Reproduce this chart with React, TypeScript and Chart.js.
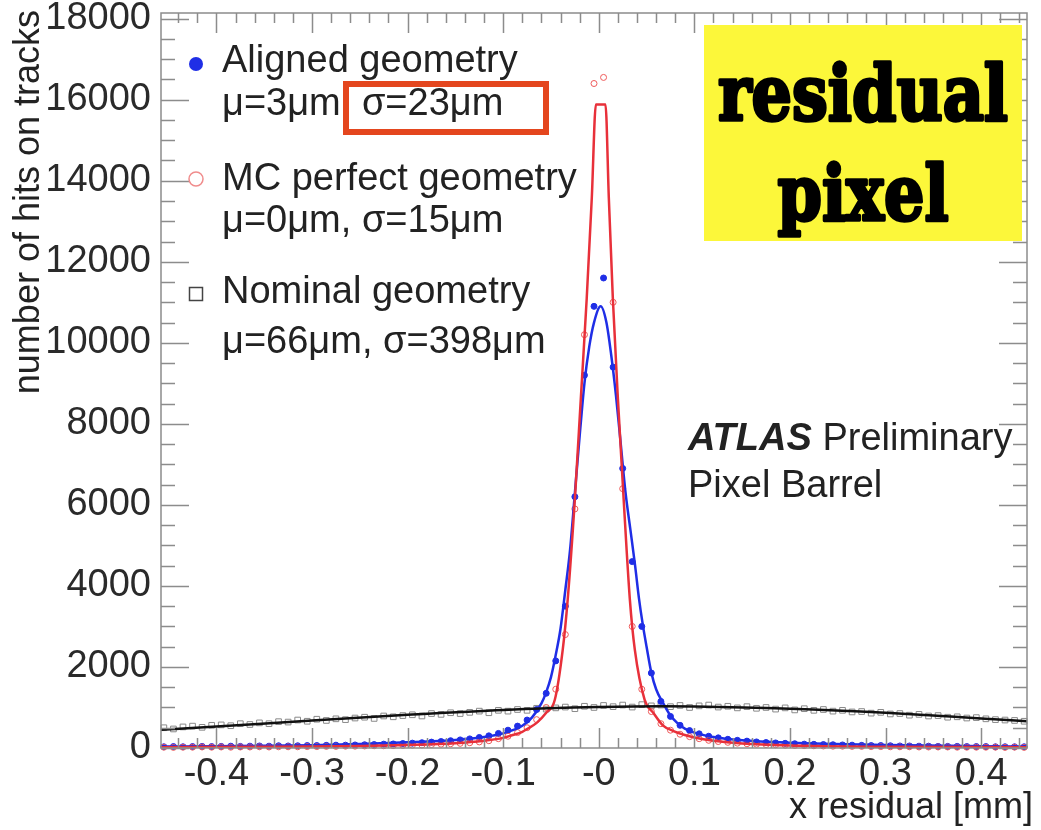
import React, { useEffect, useRef } from "react";
import { Chart, registerables } from "chart.js";

Chart.register(...registerables);

// ---------- data ----------
const binCenters = [
  -0.455, -0.445, -0.435, -0.425, -0.415, -0.405, -0.395, -0.385, -0.375, -0.365,
  -0.355, -0.345, -0.335, -0.325, -0.315, -0.305, -0.295, -0.285, -0.275, -0.265,
  -0.255, -0.245, -0.235, -0.225, -0.215, -0.205, -0.195, -0.185, -0.175, -0.165,
  -0.155, -0.145, -0.135, -0.125, -0.115, -0.105, -0.095, -0.085, -0.075, -0.065,
  -0.055, -0.045, -0.035, -0.025, -0.015, -0.005, 0.005, 0.015, 0.025, 0.035,
  0.045, 0.055, 0.065, 0.075, 0.085, 0.095, 0.105, 0.115, 0.125, 0.135,
  0.145, 0.155, 0.165, 0.175, 0.185, 0.195, 0.205, 0.215, 0.225, 0.235,
  0.245, 0.255, 0.265, 0.275, 0.285, 0.295, 0.305, 0.315, 0.325, 0.335,
  0.345, 0.355, 0.365, 0.375, 0.385, 0.395, 0.405, 0.415, 0.425, 0.435,
  0.445, 0.455,
];

const alignedCounts = [
  30, 35, 30, 35, 40, 35, 40, 45, 40, 45,
  50, 45, 55, 50, 55, 60, 60, 65, 70, 70,
  75, 80, 85, 95, 100, 110, 120, 130, 145, 160,
  180, 200, 225, 260, 300, 360, 440, 540, 690, 950,
  1350, 2150, 3500, 6200, 9200, 10900, 11600, 9400, 6900, 4600,
  3000, 1850, 1150, 780, 560, 430, 350, 290, 250, 215,
  190, 170, 150, 135, 125, 115, 105, 95, 90, 85,
  80, 75, 70, 65, 60, 60, 55, 50, 50, 45,
  45, 40, 40, 40, 35, 35, 35, 30, 30, 30,
  30, 30,
];

const mcCounts = [
  20, 15, 20, 20, 25, 20, 25, 20, 25, 25,
  30, 25, 30, 30, 30, 35, 35, 40, 40, 45,
  45, 50, 55, 55, 60, 65, 70, 75, 85, 95,
  105, 115, 130, 150, 180, 230, 290, 380, 500, 700,
  1000, 1450, 2800, 5900, 10200, 16400, 16550, 11000, 6400, 3000,
  1450, 900, 600, 440, 340, 280, 230, 190, 160, 140,
  120, 105, 95, 85, 80, 70, 65, 60, 55, 50,
  45, 45, 40, 40, 35, 35, 30, 30, 30, 25,
  25, 25, 25, 20, 20, 20, 20, 20, 15, 20,
  15, 15,
];

const nominalCounts = [
  500, 470, 520, 540, 510, 560, 570, 550, 600, 580,
  620, 600, 650, 640, 690, 660, 710, 680, 720, 700,
  740, 760, 730, 790, 770, 800, 820, 790, 850, 830,
  870, 850, 880, 910, 870, 930, 910, 950, 930, 980,
  960, 990, 1010, 970, 1030, 1000, 1050, 1020, 1060, 1010,
  1070, 1040, 1060, 1020, 1050, 1000, 1040, 1060, 1010, 1030,
  990, 1020, 980, 1000, 960, 990, 940, 970, 930, 950,
  910, 930, 890, 900, 860, 880, 840, 850, 810, 830,
  790, 800, 760, 770, 740, 750, 720, 700, 690, 680,
  660, 650,
];

const alignedFitX = [
  -0.458, -0.4, -0.3, -0.25, -0.2, -0.15, -0.12, -0.1, -0.09, -0.08,
  -0.07, -0.06, -0.055, -0.05, -0.045, -0.04, -0.035, -0.03, -0.025, -0.02,
  -0.015, -0.01, -0.005, 0.002, 0.008, 0.013, 0.018, 0.023, 0.028, 0.033,
  0.038, 0.042, 0.046, 0.05, 0.055, 0.06, 0.067, 0.075, 0.082, 0.09,
  0.1, 0.12, 0.15, 0.2, 0.3, 0.4, 0.448,
];
const alignedFitY = [
  35, 45, 70, 100, 140, 200, 270, 360, 440, 550,
  750, 1100, 1380, 1750, 2300, 2950, 3900, 4900, 6300, 7700,
  9000, 9900, 10500, 10900, 10500, 9700, 8700, 7500, 6300, 5400,
  4500, 3700, 3050, 2500, 1860, 1450, 1120, 800, 620, 480,
  380, 270, 190, 130, 75, 45, 35,
];

const mcFitX = [
  -0.458, -0.35, -0.3, -0.25, -0.2, -0.15, -0.12, -0.1, -0.09, -0.08,
  -0.075, -0.065, -0.055, -0.046, -0.0377, -0.0325, -0.025, -0.0188, -0.0126, -0.0073,
  -0.003, 0.007, 0.0105, 0.0147, 0.02, 0.026, 0.0325, 0.0377, 0.048, 0.057,
  0.067, 0.077, 0.09, 0.1, 0.12, 0.15, 0.2, 0.3, 0.448,
];
const mcFitY = [
  20, 28, 35, 50, 75, 120, 180, 250, 320, 400,
  470, 620, 870, 1190, 2430, 3670, 6150, 8620, 11100, 13580,
  15880, 15880, 13580, 11100, 8620, 6150, 3670, 2430, 1190, 870,
  560, 430, 320, 260, 180, 110, 60, 30, 20,
];

const nominalFitX = [-0.458, -0.4, -0.3, -0.2, -0.1, 0, 0.066, 0.1, 0.2, 0.3, 0.4, 0.448];
const nominalFitY = [450, 530, 680, 820, 940, 1010, 1030, 1025, 970, 870, 730, 660];

const xTickValues = [-0.4, -0.3, -0.2, -0.1, 0, 0.1, 0.2, 0.3, 0.4];
const xTickLabels = ["-0.4", "-0.3", "-0.2", "-0.1", "-0", "0.1", "0.2", "0.3", "0.4"];
const yTickValues = [0, 2000, 4000, 6000, 8000, 10000, 12000, 14000, 16000, 18000];
const yTickLabels = ["0", "2000", "4000", "6000", "8000", "10000", "12000", "14000", "16000", "18000"];

const xTitle = "x residual [mm]";
const yTitle = "number of hits on tracks";
const legendLines = [
  "Aligned geometry",
  "μ=3μm, σ=23μm",
  "MC perfect geometry",
  "μ=0μm, σ=15μm",
  "Nominal geometry",
  "μ=66μm, σ=398μm",
];
const atlasBold = "ATLAS";
const atlasRest = " Preliminary";
const subLabel = "Pixel Barrel";
const stampLines = ["residual", "pixel"];

const FONT = '"Liberation Sans", Arial, sans-serif';
const BLUE = "#1f2ee6";
const RED = "#e8303a";

const pts = (xs: number[], ys: number[]) => xs.map((x, i) => ({ x, y: ys[i] }));

const decor = {
  id: "decor",
  afterDraw(chart: any) {
    const { ctx, chartArea: a, scales } = chart;
    const xs = scales.x;
    const ys = scales.y;
    ctx.save();

    // frame + ticks (ROOT style, inward)
    ctx.strokeStyle = "#8c8c8c";
    ctx.lineWidth = 1.5;
    ctx.strokeRect(a.left, a.top, a.right - a.left, a.bottom - a.top);
    ctx.beginPath();
    for (let k = -23; k <= 23; k++) {
      const v = k * 0.02;
      if (v < xs.min || v > xs.max) continue;
      const len = k % 5 === 0 ? 20 : 10;
      const px = Math.round(xs.getPixelForValue(v)) + 0.5;
      ctx.moveTo(px, a.bottom);
      ctx.lineTo(px, a.bottom - len);
      ctx.moveTo(px, a.top);
      ctx.lineTo(px, a.top + len);
    }
    for (let k = 0; k * 500 <= ys.max; k++) {
      const len = k % 4 === 0 ? 28 : 14;
      const py = Math.round(ys.getPixelForValue(k * 500)) + 0.5;
      ctx.moveTo(a.left, py);
      ctx.lineTo(a.left + len, py);
      ctx.moveTo(a.right, py);
      ctx.lineTo(a.right - len, py);
    }
    ctx.stroke();

    // axis titles
    ctx.fillStyle = "#222";
    ctx.font = `36px ${FONT}`;
    ctx.textAlign = "right";
    ctx.textBaseline = "middle";
    ctx.fillText(xTitle, 1033, 808);
    ctx.save();
    ctx.translate(29, 10);
    ctx.rotate(-Math.PI / 2);
    ctx.fillText(yTitle, 0, 0);
    ctx.restore();

    // legend
    const ly = [62, 105, 180, 222, 293, 343];
    ctx.font = `38px ${FONT}`;
    ctx.textAlign = "left";
    ctx.textBaseline = "middle";
    ctx.fillStyle = "#222";
    legendLines.forEach((t, i) => ctx.fillText(t, 222, ly[i]));
    ctx.fillStyle = BLUE;
    ctx.beginPath();
    ctx.arc(196, 64, 7, 0, Math.PI * 2);
    ctx.fill();
    ctx.strokeStyle = "#f08c8c";
    ctx.lineWidth = 1.5;
    ctx.beginPath();
    ctx.arc(196, 179, 7, 0, Math.PI * 2);
    ctx.stroke();
    ctx.strokeStyle = "#444";
    ctx.strokeRect(189.5, 287.5, 13, 13);

    // red highlight box
    ctx.strokeStyle = "#e4461e";
    ctx.lineWidth = 6;
    ctx.strokeRect(346, 84, 200, 48);

    // ATLAS label
    ctx.fillStyle = "#222";
    ctx.font = `italic bold 38px ${FONT}`;
    ctx.fillText(atlasBold, 688, 440);
    const wA = ctx.measureText(atlasBold).width;
    ctx.font = `38px ${FONT}`;
    ctx.fillText(atlasRest, 688 + wA, 440);
    ctx.fillText(subLabel, 688, 487);

    // yellow stamp
    ctx.fillStyle = "#fcf73a";
    ctx.fillRect(704, 25, 318, 216);
    ctx.fillStyle = "#000";
    ctx.strokeStyle = "#000";
    ctx.lineWidth = 3.5;
    ctx.lineJoin = "round";
    ctx.font = `bold 76px "DejaVu Serif", serif`;
    ctx.textAlign = "center";
    ctx.textBaseline = "alphabetic";
    const sx = 290 / ctx.measureText(stampLines[0]).width;
    [120, 220].forEach((by, i) => {
      ctx.save();
      ctx.translate(863, by);
      ctx.scale(sx, 1);
      ctx.fillText(stampLines[i], 0, 0);
      ctx.strokeText(stampLines[i], 0, 0);
      ctx.restore();
    });

    ctx.restore();
  },
};

export default function App() {
  const ref = useRef<HTMLCanvasElement | null>(null);

  useEffect(() => {
    if (!ref.current) return;
    const clipPts = { left: 6, top: 0, right: 3, bottom: 6 };
    const chart = new Chart(ref.current, {
      type: "line",
      data: {
        datasets: [
          {
            label: "Nominal fit",
            data: pts(nominalFitX, nominalFitY),
            borderColor: "#111",
            borderWidth: 2.5,
            pointRadius: 0,
            cubicInterpolationMode: "monotone",
            order: 0,
          },
          {
            label: "MC fit",
            data: pts(mcFitX, mcFitY),
            borderColor: RED,
            borderWidth: 2.5,
            pointRadius: 0,
            cubicInterpolationMode: "monotone",
            order: 1,
          },
          {
            label: "Aligned fit",
            data: pts(alignedFitX, alignedFitY),
            borderColor: BLUE,
            borderWidth: 2.5,
            pointRadius: 0,
            cubicInterpolationMode: "monotone",
            order: 2,
          },
          {
            label: "MC perfect geometry",
            data: pts(binCenters, mcCounts),
            showLine: false,
            pointStyle: "circle",
            pointRadius: 3,
            borderColor: "#ee5a5a",
            backgroundColor: "rgba(0,0,0,0)",
            pointBorderWidth: 1,
            clip: clipPts,
            order: 3,
          },
          {
            label: "Aligned geometry",
            data: pts(binCenters, alignedCounts),
            showLine: false,
            pointStyle: "circle",
            pointRadius: 3,
            borderColor: BLUE,
            backgroundColor: BLUE,
            pointBorderWidth: 1,
            clip: clipPts,
            order: 4,
          },
          {
            label: "Nominal geometry",
            data: pts(binCenters, nominalCounts),
            showLine: false,
            pointStyle: "rect",
            pointRadius: 4,
            borderColor: "#8a8a8a",
            backgroundColor: "rgba(0,0,0,0)",
            pointBorderWidth: 1,
            clip: clipPts,
            order: 5,
          },
        ],
      },
      options: {
        responsive: false,
        maintainAspectRatio: false,
        animation: false,
        layout: { padding: { left: 0, right: 14, top: 13, bottom: 0 } },
        plugins: { legend: { display: false }, tooltip: { enabled: false } },
        scales: {
          x: {
            type: "linear",
            min: -0.458,
            max: 0.448,
            afterFit: (s: any) => {
              s.height = 82;
              s.paddingLeft = 0;
              s.paddingRight = 0;
            },
            afterBuildTicks: (s: any) => {
              s.ticks = xTickValues.map((v) => ({ value: v }));
            },
            ticks: {
              autoSkip: false,
              maxRotation: 0,
              padding: 4,
              color: "#2a2a2a",
              font: { family: FONT, size: 38 },
              callback: (_v: any, i: number) => xTickLabels[i],
            },
            grid: { display: false, drawTicks: false },
            border: { display: false },
          },
          y: {
            type: "linear",
            min: 0,
            max: 18140,
            afterFit: (s: any) => {
              s.width = 161;
              s.paddingTop = 0;
              s.paddingBottom = 0;
            },
            afterBuildTicks: (s: any) => {
              s.ticks = yTickValues.map((v) => ({ value: v }));
            },
            ticks: {
              autoSkip: false,
              padding: 10,
              color: "#2a2a2a",
              font: { family: FONT, size: 38 },
              callback: (_v: any, i: number) => yTickLabels[i],
            },
            grid: { display: false, drawTicks: false },
            border: { display: false },
          },
        },
      },
      plugins: [decor],
    } as any);
    return () => chart.destroy();
  }, []);

  return (
    <div style={{ position: "absolute", left: 0, top: 0, width: 1041, height: 830, background: "#fff" }}>
      <canvas ref={ref} width={1041} height={830} />
    </div>
  );
}
